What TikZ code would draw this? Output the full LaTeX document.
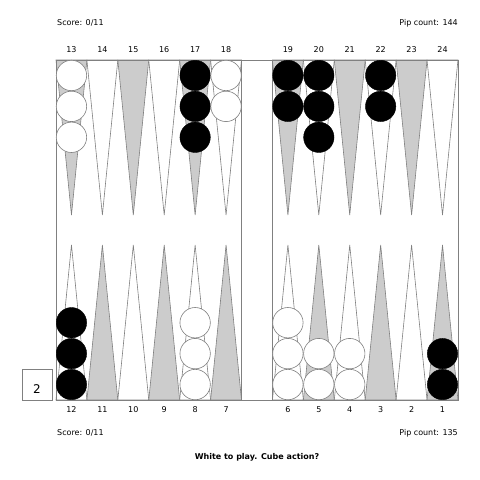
\documentclass[tikz,border=0pt]{standalone}
\usepackage{fontspec}
\setmainfont{DejaVu Sans}
\usetikzlibrary{positioning}
\definecolor{pointgray}{RGB}{204,204,204}
\definecolor{edgegray}{RGB}{128,128,128}

\begin{document}
\begin{tikzpicture}[x=1pt, y=-1pt,
            txt/.style={font=\fontsize{8}{9}\selectfont, inner sep=0pt},
            darkpt/.style={draw=edgegray, fill=pointgray, line width=0.6pt},
            lightpt/.style={draw=edgegray, fill=white, line width=0.6pt},
            frame/.style={draw=edgegray, line width=0.8pt},
            whitechk/.style={circle, draw=edgegray, fill=white, line width=0.6pt, minimum size=30.4pt, inner sep=0pt},
            blackchk/.style={circle, draw=black, fill=black, minimum size=30.4pt, inner sep=0pt}]
  \useasboundingbox (0,0) rectangle (480,480);
  \def\w{30.92}
  % points, top row 13..24 and bottom row 12..1
  \foreach \c in {0,...,12} {
    \ifnum\c=6\else
      \pgfmathtruncatemacro{\tp}{\c<6 ? 13+\c : 12+\c}
      \pgfmathtruncatemacro{\bp}{\c<6 ? 12-\c : 13-\c}
      \pgfmathsetmacro{\xl}{56+\w*\c}
      \pgfmathsetmacro{\xr}{56+\w*(\c+1)}
      \pgfmathsetmacro{\xm}{56+\w*(\c+0.5)}
      \pgfmathtruncatemacro{\todd}{mod(\tp,2)}
      \pgfmathtruncatemacro{\bodd}{mod(\bp,2)}
      \ifnum\todd=1 \def\ts{darkpt}\else \def\ts{lightpt}\fi
      \ifnum\bodd=1 \def\bs{darkpt}\else \def\bs{lightpt}\fi
      \draw[\ts] (\xl,60) -- (\xm,215) -- (\xr,60) -- cycle;
      \draw[\bs] (\xl,400) -- (\xm,245) -- (\xr,400) -- cycle;
      \node[txt] (top\tp) at (\xm,49.5) {\tp};
      \node[txt] (bot\bp) at (\xm,409.5) {\bp};
    \fi
  }
  % board and bar
  \draw[frame] (56,60) rectangle (458,400);
  \draw[frame] (241.5,60) -- (241.5,400);
  \draw[frame] (272.4,60) -- (272.4,400);
  % checkers: column / top(1) or bottom(0) / count / style
  \foreach \c/\t/\n/\s in {0/1/3/whitechk, 4/1/3/blackchk, 5/1/2/whitechk,
                           7/1/2/blackchk, 8/1/3/blackchk, 10/1/2/blackchk,
                           0/0/3/blackchk, 4/0/3/whitechk, 7/0/3/whitechk,
                           8/0/2/whitechk, 9/0/2/whitechk, 12/0/2/blackchk} {
    \foreach \k in {1,...,\n} {
      \pgfmathsetmacro{\xm}{56+\w*(\c+0.5)}
      \pgfmathsetmacro{\ym}{\t==1 ? 60+\w*(\k-0.5) : 400-\w*(\k-0.5)}
      \node[\s] (chk-\c-\t-\k) at (\xm,\ym) {};
    }
  }
  % cube
  \draw[frame] (22,369) rectangle (52.3,400);
  \node[inner sep=0pt, font=\fontsize{12}{13}\selectfont] (cube) at (37,389.5) {2};
  % scores and pip counts
  \node[txt, anchor=west] (scoretop) at (57,23) {Score: 0/11};
  \node[txt, anchor=east] (piptop) at (458,23) {Pip count: 144};
  \node[txt, anchor=west] (scorebot) at (57,433) {Score: 0/11};
  \node[txt, anchor=east] (pipbot) at (458,433) {Pip count: 135};
  \node[txt, font=\fontsize{8}{9}\selectfont\bfseries] (prompt) at (257,457) {White to play. Cube action?};
\end{tikzpicture}
\end{document}
